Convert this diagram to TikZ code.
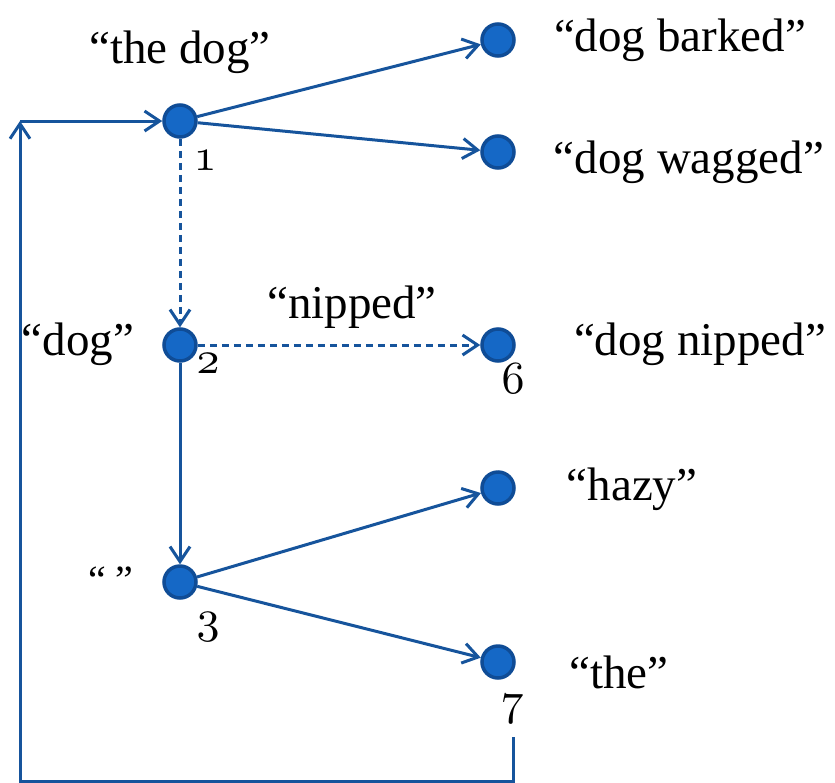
\documentclass[tikz,border=0pt]{standalone}
\usepackage{fontspec}
\usepackage{graphicx}
\setmainfont{Liberation Serif}
\usetikzlibrary{arrows.meta}
\definecolor{dotfill}{RGB}{21,104,198}
\definecolor{dotrim}{RGB}{15,76,150}
\definecolor{wire}{RGB}{22,84,156}
% old-style figures for the state numbers, scaled up from 10pt math italic
\newcommand\statenum[1]{\scalebox{4.6}{\fontsize{10}{12}\usefont{OML}{cmm}{m}{it}#1}}
\tikzset{
  state/.style={circle, fill=dotfill, draw=dotrim, line width=3.5pt, minimum size=32pt, inner sep=0pt},
  edge/.style={draw=wire, line width=3pt, -{Straight Barb[length=15pt,width=20pt,line width=3pt]}},
  failure/.style={edge, dash pattern=on 7pt off 5pt},
  word/.style={anchor=base, inner sep=0pt, font=\fontsize{47}{56}\selectfont},
  small/.style={anchor=base, inner sep=0pt, font=\fontsize{40}{46}\selectfont},
  num/.style={anchor=base, inner sep=0pt}
}
\begin{document}
\begin{tikzpicture}[x=1pt, y=-1pt]
\useasboundingbox (0,0) rectangle (835,782);

% states
\node[state] (n1) at (180,121) {};
\node[state] (n2) at (180,345) {};
\node[state] (n3) at (180,582) {};
\node[state] (nb) at (498,40) {};
\node[state] (nw) at (498,152) {};
\node[state] (n6) at (498,345) {};
\node[state] (nh) at (498,488) {};
\node[state] (n7) at (498,662) {};

% goto edges
\draw[edge] (n1) -- (nb);
\draw[edge] (n1) -- (nw);
\draw[edge] (n2) -- (n3);
\draw[edge] (n3) -- (nh);
\draw[edge] (n3) -- (n7);

% failure links
\draw[failure] (n1) -- (n2);
\draw[failure] (n2) -- (n6);

% loop back to the root
\coordinate (loopA) at (513,737);
\coordinate (loopB) at (513,781);
\coordinate (loopC) at (20,781);
\coordinate (loopD) at (20,121);
\draw[edge] (loopA) -- (loopB) -- (loopC) -- (loopD);
\draw[edge] (loopD) -- (n1);

% labels
\node[word] (lthedog) at (180,63) {“the dog”};
\node[word] (lbarked) at (680,51) {“dog barked”};
\node[word] (lwagged) at (689,173) {“dog wagged”};
\node[word] (ldog) at (78,355) {“dog”};
\node[word] (lnipped) at (352,318) {“nipped”};
\node[word] (ldognipped) at (700,355) {“dog nipped”};
\node[word] (lhazy) at (632,500) {“hazy”};
\node[word] (lthe) at (619,688) {“the”};
\node[small] (lempty) at (111,593) {“\hspace{9pt}”};

% state numbers
\node[num] (k1) at (205,170) {\statenum{1}};
\node[num] (k2) at (208,373) {\statenum{2}};
\node[num] (k3) at (208,632) {\statenum{3}};
\node[num] (k6) at (513,393) {\statenum{6}};
\node[num] (k7) at (512,714) {\statenum{7}};
\end{tikzpicture}
\end{document}
